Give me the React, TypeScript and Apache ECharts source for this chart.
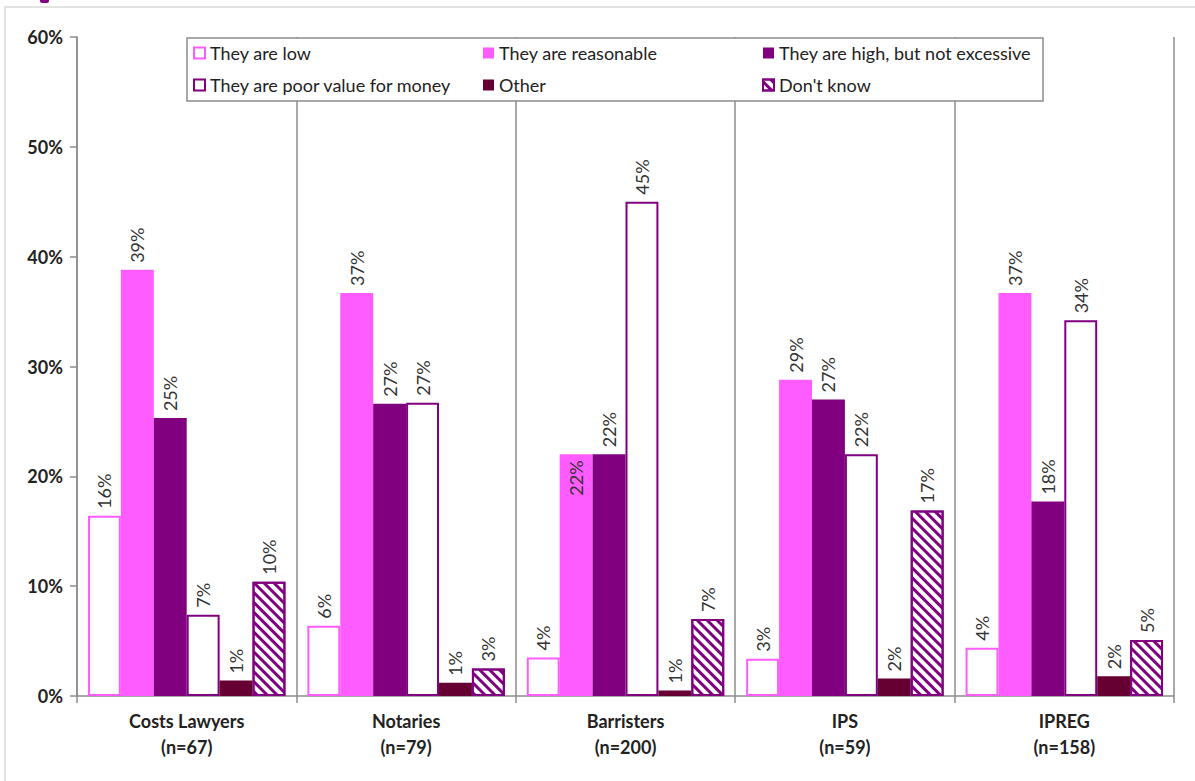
import React, { useEffect, useRef } from "react";
import * as echarts from "echarts";

const categoryNames = ["Costs Lawyers", "Notaries", "Barristers", "IPS", "IPREG"];
const sampleSizes = [67, 79, 200, 59, 158];

const seriesNames = [
  "They are low",
  "They are reasonable",
  "They are high, but not excessive",
  "They are poor value for money",
  "Other",
  "Don't know",
];

const lowValues = [16.4, 6.4, 3.5, 3.4, 4.4];
const reasonableValues = [38.8, 36.7, 22.0, 28.8, 36.7];
const highValues = [25.3, 26.6, 22.0, 27.0, 17.7];
const poorValueValues = [7.4, 26.7, 45.0, 22.0, 34.2];
const otherValues = [1.4, 1.2, 0.5, 1.6, 1.8];
const dontKnowValues = [10.4, 2.5, 7.0, 16.9, 5.1];

const yTicks = [0, 10, 20, 30, 40, 50, 60];

const FONT = "Lato, 'Noto Sans', sans-serif";
const PINK = "#FF5CFF";
const PURPLE = "#800080";
const MAROON = "#660033";
const GRAY = "#8C8C8C";

export default function App() {
  const ref = useRef<HTMLDivElement>(null);

  useEffect(() => {
    if (!ref.current) return;
    const chart = echarts.init(ref.current, null, { renderer: "svg" });

    const labelTop = {
      show: true,
      position: "top",
      distance: 7,
      rotate: 90,
      align: "left",
      verticalAlign: "middle",
      fontFamily: FONT,
      fontSize: 18,
      color: "#333",
      formatter: (p: any) => Math.round(p.value) + "%",
    };

    const styles = [
      { color: "#fff", borderColor: PINK, borderWidth: 2 },
      { color: PINK },
      { color: PURPLE },
      { color: "#fff", borderColor: PURPLE, borderWidth: 2 },
      { color: MAROON },
      {
        color: "#fff",
        borderColor: PURPLE,
        borderWidth: 2,
        decal: {
          symbol: "rect",
          symbolSize: 1,
          color: PURPLE,
          dashArrayX: [1, 0],
          dashArrayY: [3, 4],
          rotation: Math.PI / 4,
        },
      },
    ];
    const values = [lowValues, reasonableValues, highValues, poorValueValues, otherValues, dontKnowValues];

    const series = seriesNames.map((name, i) => ({
      name,
      type: "bar",
      barGap: "0%",
      barCategoryGap: "10%",
      itemStyle: styles[i],
      label: labelTop,
      data: values[i].map((v, j) => {
        if (i === 1 && categoryNames[j] === "Barristers") {
          return {
            value: v,
            label: {
              position: "insideTop",
              distance: 6,
              align: "right",
              verticalAlign: "middle",
            },
          };
        }
        return v;
      }),
    }));

    const legendCommon = {
      orient: "vertical",
      top: 43,
      padding: 0,
      icon: "rect",
      itemWidth: 11,
      itemHeight: 11,
      itemGap: 12,
      z: 20,
      selectedMode: false,
      textStyle: { fontFamily: FONT, fontSize: 18, color: "#222", lineHeight: 20 },
    };

    chart.setOption({
      animation: false,
      backgroundColor: "#fff",
      grid: { left: 77, right: 21, top: 37, bottom: 85 },
      legend: [
        { ...legendCommon, left: 193, data: [seriesNames[0], seriesNames[3]] },
        { ...legendCommon, left: 483, data: [seriesNames[1], seriesNames[4]] },
        { ...legendCommon, left: 762, data: [seriesNames[2], seriesNames[5]] },
      ],
      graphic: [
        {
          type: "rect",
          z: -10,
          silent: true,
          shape: { x: 5, y: 7, width: 1300, height: 900 },
          style: { fill: "none", stroke: "#D9D9D9", lineWidth: 1.5 },
        },
        {
          type: "rect",
          z: 10,
          silent: true,
          shape: { x: 40, y: -3, width: 9, height: 6, r: 2 },
          style: { fill: PURPLE },
        },
        {
          type: "rect",
          z: 10,
          silent: true,
          shape: { x: 187, y: 38, width: 856, height: 63 },
          style: { fill: "#fff", stroke: GRAY, lineWidth: 1.5 },
        },
      ],
      xAxis: {
        type: "category",
        data: categoryNames.map((c, i) => `${c}\n(n=${sampleSizes[i]})`),
        axisLine: { lineStyle: { color: GRAY, width: 1.5 } },
        axisTick: { show: true, length: 7, lineStyle: { color: GRAY, width: 1.5 } },
        splitLine: { show: true, lineStyle: { color: GRAY, width: 1.5 } },
        axisLabel: {
          fontFamily: FONT,
          fontSize: 18,
          fontWeight: "bold",
          color: "#222",
          lineHeight: 26,
          margin: 12,
        },
      },
      yAxis: {
        type: "value",
        min: yTicks[0],
        max: yTicks[yTicks.length - 1],
        interval: 10,
        axisLine: { show: true, lineStyle: { color: GRAY, width: 1.5 } },
        axisTick: { show: true, length: 7, lineStyle: { color: GRAY, width: 1.5 } },
        splitLine: { show: false },
        axisLabel: {
          fontFamily: FONT,
          fontSize: 18,
          fontWeight: "bold",
          color: "#222",
          margin: 14,
          formatter: "{value}%",
        },
      },
      series,
    });

    return () => chart.dispose();
  }, []);

  return (
    <div
      ref={ref}
      style={{ position: "fixed", left: 0, top: 0, width: 1195, height: 781 }}
    />
  );
}
